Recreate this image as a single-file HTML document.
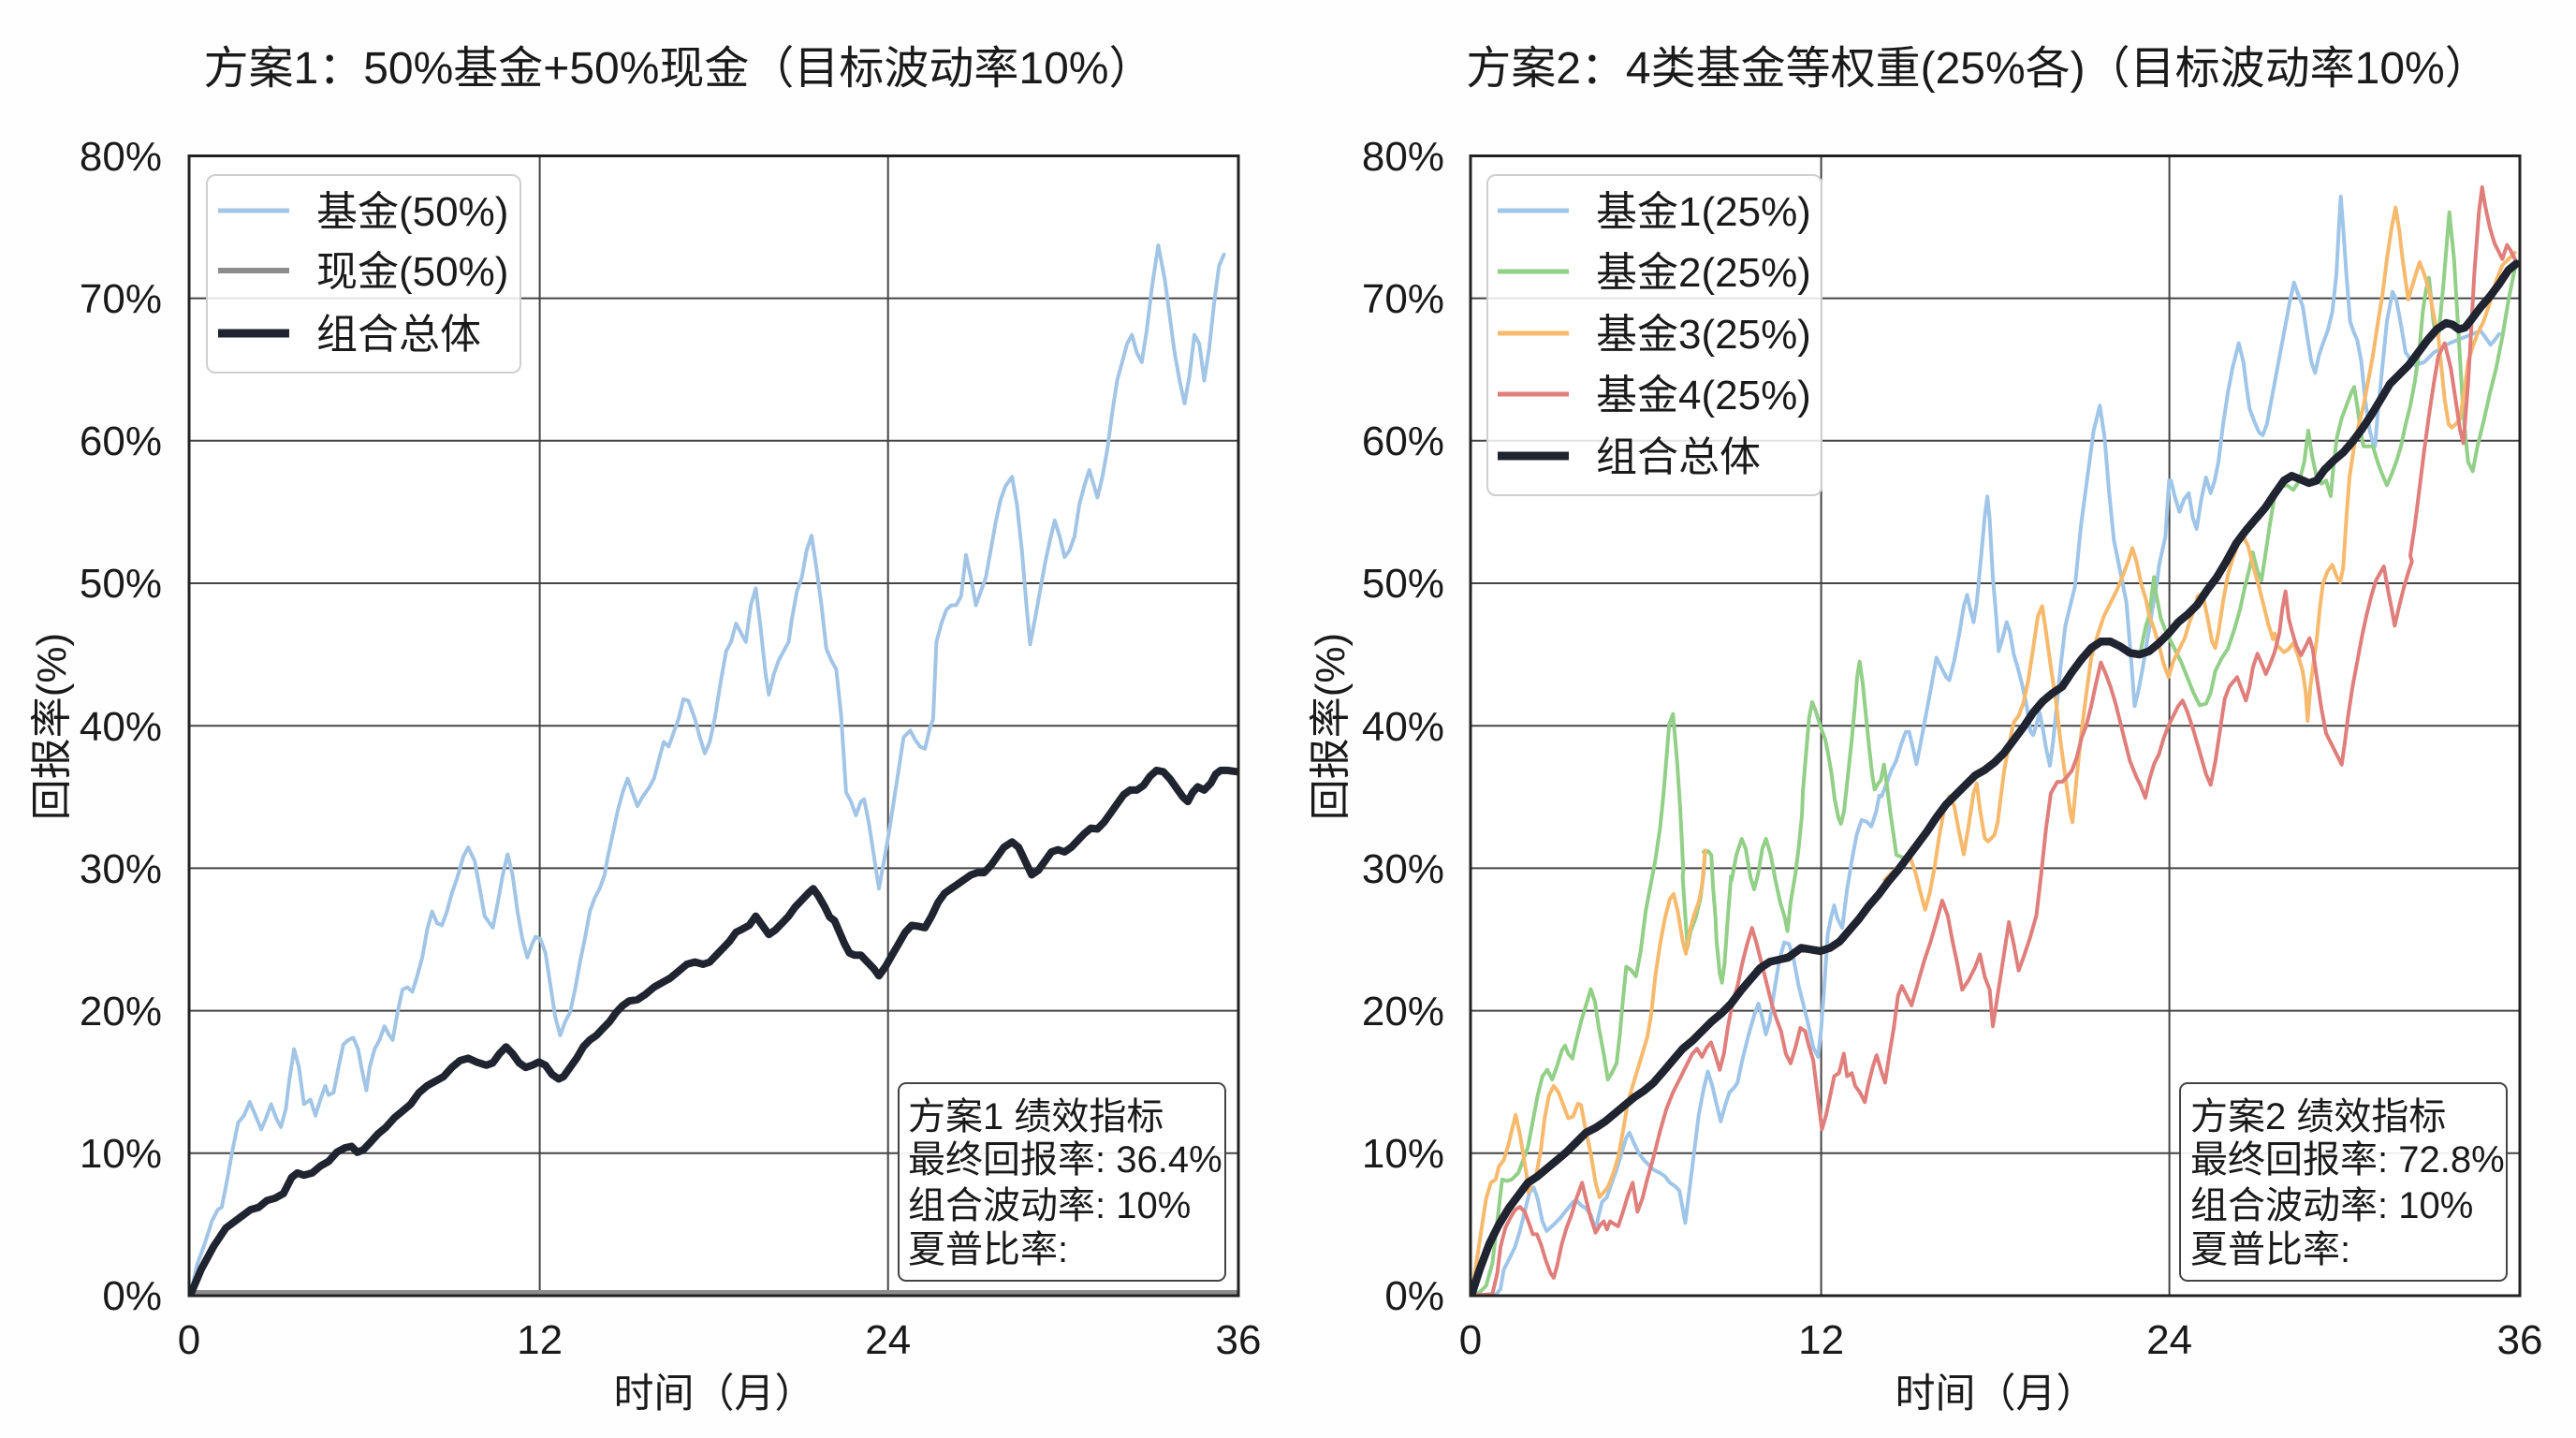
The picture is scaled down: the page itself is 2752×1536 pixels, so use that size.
<!DOCTYPE html>
<html><head><meta charset="utf-8"><style>
html,body{margin:0;padding:0;background:#fff;}
svg{display:block;}
text{font-family:"Liberation Sans","Noto Sans CJK SC",sans-serif;fill:#1a1a1a;}
</style></head><body>
<svg xmlns="http://www.w3.org/2000/svg" width="2752" height="1536" viewBox="0 0 2752 1536">
<defs>
<clipPath id="cl"><rect x="202" y="166.5" width="1121" height="1217.5"/></clipPath>
<clipPath id="cr"><rect x="1571" y="166.5" width="1121" height="1217.5"/></clipPath>
</defs>
<rect width="2752" height="1536" fill="#fefefe"/>

<!-- Titles -->
<text x="725" y="89" font-size="48" text-anchor="middle">方案1：50%基金+50%现金（目标波动率10%）</text>
<text x="2113" y="89" font-size="48" text-anchor="middle">方案2：4类基金等权重(25%各)（目标波动率10%）</text>

<!-- Left axes background & grid -->
<rect x="202" y="166.5" width="1121" height="1217.5" fill="#fff"/>
<g stroke="#444" stroke-width="2">
<line x1="202" x2="1323" y1="1231.8" y2="1231.8"/><line x1="202" x2="1323" y1="1079.6" y2="1079.6"/>
<line x1="202" x2="1323" y1="927.4" y2="927.4"/><line x1="202" x2="1323" y1="775.2" y2="775.2"/>
<line x1="202" x2="1323" y1="623" y2="623"/><line x1="202" x2="1323" y1="470.8" y2="470.8"/>
<line x1="202" x2="1323" y1="318.6" y2="318.6"/>
<line x1="576.6" x2="576.6" y1="166.5" y2="1384"/><line x1="948.7" x2="948.7" y1="166.5" y2="1384"/>
</g>
<!-- Right axes background & grid -->
<rect x="1571" y="166.5" width="1121" height="1217.5" fill="#fff"/>
<g stroke="#444" stroke-width="2">
<line x1="1571" x2="2692" y1="1231.8" y2="1231.8"/><line x1="1571" x2="2692" y1="1079.6" y2="1079.6"/>
<line x1="1571" x2="2692" y1="927.4" y2="927.4"/><line x1="1571" x2="2692" y1="775.2" y2="775.2"/>
<line x1="1571" x2="2692" y1="623" y2="623"/><line x1="1571" x2="2692" y1="470.8" y2="470.8"/>
<line x1="1571" x2="2692" y1="318.6" y2="318.6"/>
<line x1="1945.6" x2="1945.6" y1="166.5" y2="1384"/><line x1="2317.6" x2="2317.6" y1="166.5" y2="1384"/>
</g>

<!-- Series left -->
<g clip-path="url(#cl)" fill="none" stroke-linejoin="round" stroke-linecap="round">
<path id="lb" stroke="#a2c5e6" stroke-width="4"/>
<line x1="202" x2="1323" y1="1381" y2="1381" stroke="#8c8c8c" stroke-width="6"/>
<path id="lk" stroke="#1f2430" stroke-width="8"/>
</g>
<!-- Series right -->
<g clip-path="url(#cr)" fill="none" stroke-linejoin="round" stroke-linecap="round">
<path id="rb" stroke="#9fc5e8" stroke-width="4"/>
<path id="rg" stroke="#92cf87" stroke-width="4"/>
<path id="ro1" stroke="#f7b96c" stroke-width="4"/>
<path id="ro2" stroke="#f7b96c" stroke-width="4"/>
<path id="rr" stroke="#e07e7b" stroke-width="4"/>
<path id="rk" stroke="#1f2430" stroke-width="8.5"/>
</g>

<!-- Spines -->
<rect x="202" y="166.5" width="1121" height="1217.5" fill="none" stroke="#222" stroke-width="3"/>
<rect x="1571" y="166.5" width="1121" height="1217.5" fill="none" stroke="#222" stroke-width="3"/>

<!-- Y tick labels -->
<g font-size="44" text-anchor="end">
<text x="173" y="1399">0%</text><text x="173" y="1247">10%</text><text x="173" y="1095">20%</text>
<text x="173" y="943">30%</text><text x="173" y="791">40%</text><text x="173" y="638">50%</text>
<text x="173" y="486">60%</text><text x="173" y="334">70%</text><text x="173" y="182">80%</text>
<text x="1543" y="1399">0%</text><text x="1543" y="1247">10%</text><text x="1543" y="1095">20%</text>
<text x="1543" y="943">30%</text><text x="1543" y="791">40%</text><text x="1543" y="638">50%</text>
<text x="1543" y="486">60%</text><text x="1543" y="334">70%</text><text x="1543" y="182">80%</text>
</g>
<!-- X tick labels -->
<g font-size="44" text-anchor="middle">
<text x="202" y="1446">0</text><text x="576.6" y="1446">12</text><text x="948.7" y="1446">24</text><text x="1323" y="1446">36</text>
<text x="1571" y="1446">0</text><text x="1945.6" y="1446">12</text><text x="2317.6" y="1446">24</text><text x="2692" y="1446">36</text>
</g>
<!-- Axis labels -->
<text x="763" y="1503" font-size="43" text-anchor="middle">时间（月）</text>
<text x="2132" y="1503" font-size="43" text-anchor="middle">时间（月）</text>
<text transform="translate(70,776) rotate(-90)" font-size="44" text-anchor="middle">回报率(%)</text>
<text transform="translate(1436,776) rotate(-90)" font-size="44" text-anchor="middle">回报率(%)</text>

<!-- Left legend -->
<rect x="221" y="187" width="335" height="211" rx="9" fill="#fff" fill-opacity="0.85" stroke="#cfcfcf" stroke-width="2"/>
<line x1="233" x2="309" y1="225" y2="225" stroke="#a2c5e6" stroke-width="5"/>
<line x1="233" x2="309" y1="289" y2="289" stroke="#8c8c8c" stroke-width="6"/>
<line x1="233" x2="309" y1="356" y2="356" stroke="#1f2430" stroke-width="9"/>
<g font-size="44">
<text x="338" y="241">基金(50%)</text>
<text x="338" y="305">现金(50%)</text>
<text x="338" y="372">组合总体</text>
</g>

<!-- Right legend -->
<rect x="1589" y="187" width="357" height="342" rx="9" fill="#fff" fill-opacity="0.85" stroke="#cfcfcf" stroke-width="2"/>
<line x1="1600" x2="1676" y1="225" y2="225" stroke="#9fc5e8" stroke-width="5"/>
<line x1="1600" x2="1676" y1="290" y2="290" stroke="#92cf87" stroke-width="5"/>
<line x1="1600" x2="1676" y1="356" y2="356" stroke="#f7b96c" stroke-width="5"/>
<line x1="1600" x2="1676" y1="421" y2="421" stroke="#e07e7b" stroke-width="5"/>
<line x1="1600" x2="1676" y1="487" y2="487" stroke="#1f2430" stroke-width="9"/>
<g font-size="44">
<text x="1705" y="241">基金1(25%)</text>
<text x="1705" y="306">基金2(25%)</text>
<text x="1705" y="372">基金3(25%)</text>
<text x="1705" y="437">基金4(25%)</text>
<text x="1705" y="503">组合总体</text>
</g>

<!-- Stats boxes -->
<rect x="960" y="1157" width="349" height="211" rx="8" fill="#fff" fill-opacity="0.92" stroke="#444" stroke-width="2"/>
<g font-size="40">
<text x="970" y="1206">方案1 绩效指标</text>
<text x="970" y="1252">最终回报率: 36.4%</text>
<text x="970" y="1301">组合波动率: 10%</text>
<text x="970" y="1348">夏普比率:</text>
</g>
<rect x="2329" y="1157" width="349" height="211" rx="8" fill="#fff" fill-opacity="0.92" stroke="#444" stroke-width="2"/>
<g font-size="40">
<text x="2340" y="1206">方案2 绩效指标</text>
<text x="2340" y="1252">最终回报率: 72.8%</text>
<text x="2340" y="1301">组合波动率: 10%</text>
<text x="2340" y="1348">夏普比率:</text>
</g>
</svg>
<script>
const T={z1:[0,0,1.1395,2.0417],z2:[0,768,1.1395,2.0417],z3:[1376,0,1.1395,2.0417],z4:[1376,768,1.1395,2.0417],
z5:[1560,850,2.9037,2.9037],z6:[1900,520,2.9037,2.9037],z7:[1780,680,3,3],z8:[2200,160,3,3],z9:[2300,600,3,3]};
function build(segs){let d='';for(const [z,a] of segs){const t=T[z];for(let i=0;i<a.length;i+=2){const x=t[0]+a[i]/t[2],y=t[1]+a[i+1]/t[3];d+=(d?'L':'M')+x.toFixed(1)+' '+y.toFixed(1);}}return d;}
function set(id,segs){document.getElementById(id).setAttribute('d',build(segs));}

set('lk',[['z2',[232,1255,245,1200,260,1150,275,1110,290,1090,305,1070,315,1065,325,1050,335,1045,345,1035,355,1000,362,990,370,995,380,990,390,975,400,965,410,945,420,935,428,932,435,945,442,940,450,925,460,905,470,890,480,870,490,855,500,840,510,815,520,800,530,790,540,780,550,760,560,745,570,740,580,748,592,755,600,750,608,730,616,715,624,730,632,750,640,760,648,755,656,748,664,755,672,775,680,785,686,780,694,760,702,740,710,715,718,700,726,690,734,675,742,660,750,640,758,625,766,615,776,612,786,600,796,585,806,575,816,565,826,550,836,535,846,530,856,535,864,530,872,515,880,500,888,485,896,465,904,458,912,450,920,430,928,450,936,470,944,460,952,445,960,430,968,410,976,395,984,380,990,370,996,385,1004,410,1010,432,1016,440,1022,465,1028,490,1034,510,1040,515,1048,515,1056,530,1064,545,1070,560,1078,540,1086,515,1094,490,1102,465,1110,450,1118,452,1126,455,1134,430,1142,400,1150,380,1158,370,1166,360,1174,350,1182,340,1190,335,1198,335,1206,320,1214,300,1222,280,1232,268,1240,280,1248,310,1256,340,1264,330,1272,310,1280,290,1288,285,1296,290,1304,280,1312,265,1320,250,1328,238,1336,240,1344,225,1352,205,1360,185,1368,165,1376,155,1384,155,1392,145,1400,125,1408,112,1416,115,1424,130,1432,150,1440,170,1446,180,1452,160,1458,148,1466,155,1474,140,1480,120,1486,112,1494,112,1506,115]]]);

set('lb',[['z2',[232,1255,240,1190,250,1140,258,1095,265,1070,270,1065,276,1010,283,940,290,880,297,865,304,835,310,860,318,895,324,870,330,840,336,870,342,890,348,850,352,790,358,720,364,760,370,840,378,830,384,865,390,830,396,800,400,820,406,815,412,760,418,710,424,700,430,695,436,720,440,760,446,810,450,760,456,720,462,700,468,670,474,690,478,700,484,640,490,590,496,585,502,595,508,560,514,520,520,460,526,420,532,445,538,450,544,420,550,380,556,350,564,300,570,280,578,310,584,370,590,430,596,445,600,455,606,400,612,340,618,295,624,340,630,420,636,480,642,520,648,490,652,475,658,480,664,510,670,580,676,650,682,690,688,660,694,640,700,590,706,530,712,480,718,420,724,390,730,370,736,340,740,300,746,250,752,200,758,160,764,130,770,160,776,190,782,170,790,150,796,130,802,90,808,50,814,60,820,30,826,0,832,-43,838,-40,846,0,852,40,858,75,864,50,870,0,878,-88,884,-148,890,-168,896,-208,902,-188,908,-168,914,-248,920,-285,926,-198,932,-98,936,-53,942,-98,948,-128,954,-148,960,-168,964,-218,970,-278,976,-308,982,-368,988,-400,994,-328,1000,-248,1006,-153,1012,-128,1018,-108,1024,-8,1030,160,1036,180,1042,210,1048,180,1052,175,1058,230,1064,300,1070,370,1076,310,1082,250,1088,180,1094,110,1100,40,1108,25,1114,45,1120,60,1126,65,1132,20,1136,0,1140,-168,1146,-208,1152,-238,1158,-248,1164,-248,1170,-268,1176,-358,1182,-308,1188,-248,1194,-278,1200,-308,1206,-368,1212,-428,1218,-478,1224,-508,1232,-528,1238,-468,1244,-368,1250,-238,1254,-163,1260,-218,1266,-278,1272,-338,1278,-388,1284,-433,1290,-398,1296,-353,1302,-368,1308,-398,1314,-468,1320,-508,1326,-543,1332,-508,1336,-483,1342,-528,1348,-588,1354,-668,1360,-738,1366,-778,1372,-818,1378,-838,1384,-798,1390,-778,1396,-848,1402,-938,1410,-1033,1418,-958,1424,-878,1430,-798,1436,-738,1442,-688,1448,-748,1454,-838,1460,-818,1466,-738,1472,-808,1478,-908,1484,-988,1490,-1013]]]);

set('rk',[['z5',[35,1548,60,1470,90,1390,120,1330,150,1280,180,1240,210,1200,240,1180,270,1155,300,1130,330,1105,360,1075,390,1045,420,1030,450,1010,480,985,510,960,540,935,570,915,600,890,630,855,660,820,690,785,720,760,750,730,780,700,810,675,840,645,870,605,900,570,930,535,960,515]],
['z6',[30,1460,70,1430,100,1435,130,1440,160,1430,190,1410,220,1375,250,1340,280,1300,310,1265,340,1225,370,1190,400,1150,430,1110,460,1070,490,1025,520,985,550,955,580,925,610,895,640,878,670,855,700,825,730,785,760,745,790,700,820,665,850,640,880,620,910,575,940,535,970,500,1000,480,1030,480,1060,495,1090,515,1120,520,1150,510,1180,485,1210,455,1240,420,1270,395,1300,365,1330,320,1360,280,1390,230,1420,175,1450,135,1480,100,1510,65,1540,20]],
['z8',[720,1060,745,1045,770,1055,800,1068,825,1060,850,1025,880,995,910,970,940,935,970,895,1000,850,1030,800,1060,750,1090,720,1120,690,1150,650,1180,610,1210,575,1240,555,1260,560,1280,575,1300,570,1320,545,1350,505,1380,470,1410,430,1440,385,1465,365]]]);

set('rb',[['z5',[35,1548,70,1548,110,1548,125,1530,135,1470,150,1440,170,1400,185,1350,200,1290,215,1230,228,1215,240,1250,255,1320,268,1350,290,1330,310,1310,330,1285,350,1260,360,1255,375,1270,390,1280,405,1300,420,1345,430,1300,440,1260,455,1245,470,1200,485,1160,500,1110,515,1060,525,1045,540,1080,555,1110,570,1130,585,1145,600,1160,620,1170,635,1180,650,1200,665,1210,680,1225,690,1280,698,1325,710,1230,725,1110,740,990,755,910,768,855,782,900,796,960,808,1010,822,960,835,920,850,905,860,890,875,820,895,740,912,680,925,645,935,680,948,740,960,700,975,600,990,510,1005,455,1020,460,1035,510,1050,590,1065,650,1080,710,1095,780,1110,810,1120,720,1130,580,1140,430,1150,380,1160,340,1170,380,1185,410,1200,290,1215,200,1230,120,1245,75,1260,80,1275,95,1290,50,1300,0]],
['z6',[320,960,335,920,350,880,365,850,380,800,395,760,405,760,415,800,428,860,440,800,455,720,470,640,490,530,505,560,520,590,530,600,545,540,560,460,575,370,585,335,595,380,605,420,615,360,630,200,640,90,648,30,655,100,665,280,675,400,683,510,695,470,708,420,718,450,730,520,742,560,755,610,770,680,782,760,790,770,800,740,810,700,820,750,830,810,842,865,852,790,862,690,875,560,890,430]],
['z8',[50,1400,70,1200,90,1050,110,900,130,820,145,920,160,1100,175,1250,195,1350,215,1450]],
['z6',[1095,550,1105,680,1115,640,1130,560,1145,470,1160,380,1175,290]],
['z8',[320,1330,340,1240,352,1060,358,1060,370,1110,385,1160,400,1120,415,1100,428,1180,440,1215,455,1120,470,1050,485,1100,498,1060,510,1000,525,880,540,780,555,700,575,620,590,680,600,760,610,830,625,870,640,905,652,915,665,880,680,800,695,720,710,640,725,560,740,480,752,425,768,470,780,500,795,600,808,680,820,715,832,660,845,620,860,580,875,520,888,400,896,250,902,150,910,250,920,400,932,550,942,580,955,610,968,680,980,800,995,900,1005,940,1012,950,1020,850,1035,700,1050,550,1068,455,1080,480,1095,560,1110,650,1140,690,1170,680,1200,650,1250,620,1300,600,1350,580,1365,600,1382,625,1395,610,1410,590]]]);

set('rg',[['z5',[35,1548,60,1540,80,1520,100,1450,115,1320,130,1190,145,1195,160,1190,180,1170,195,1130,210,1090,225,1010,240,930,255,870,270,850,285,880,300,840,315,790,325,775,335,800,348,815,360,760,375,700,390,650,405,600,418,640,430,720,445,800,458,880,470,860,485,830,495,740,505,630,515,530,530,540,545,560,560,480,575,360,590,280,605,200,620,100,630,0]],
['z7',[10,280,22,248,35,400,45,550,55,750]],
['z5',[690,250,700,400,705,470,715,420,730,380,745,320,755,240,760,170]],
['z7',[120,690,135,688,145,700,150,800,158,900]],
['z5',[795,450,805,550,812,580,820,520,830,380,840,250]],
['z7',[210,780,225,700,242,648,255,680,270,770,282,810,295,760,308,680,320,648,335,700,350,780,365,850,380,900]],
['z5',[1015,420,1025,330,1040,240,1050,160,1060,60]],
['z7',[438,500,448,380,458,260,468,210,480,240,495,290,510,330,520,380,530,440,540,520,552,580,560,600,570,560,582,450,595,330,605,220,612,130,620,80,630,150,640,250,650,350,660,440,668,490,680,470,688,460,698,410,708,480,718,560,728,630,738,700]],
['z6',[400,1155,430,1115,460,1075,490,1030,520,990,550,960,580,930,610,900,640,883,670,860,700,830,730,790,760,750,790,705,820,670,850,645,880,625,910,580,940,540,970,505,1000,485,1030,485,1060,500,1090,520,1120,525,1140,430,1150,400,1165,280]],
['z9',[10,100,25,180,40,220,55,250,70,280,90,320,110,370,130,420,150,460,170,455,185,420,200,350,220,310,240,280,260,220,280,150,295,80,310,20]],
['z8',[620,1290,635,1350,648,1380,660,1300,675,1200,690,1110,710,1080,730,1075,750,1090,770,1060,785,1000,798,900,810,980,825,1050,840,1070,855,1060,870,1110,880,1000,890,920,905,860,920,820,935,780,945,760,955,820,965,900,975,950,1005,950,1020,1000,1035,1040,1050,1075,1065,1040,1080,1000,1095,950,1110,880,1125,820,1140,740,1155,630,1165,520,1175,450,1185,410,1200,560,1215,600,1232,420,1250,200,1265,350,1280,600,1295,850,1310,1000,1325,1030,1340,950,1360,870,1380,780,1400,700,1420,600,1440,480,1460,380]]]);

set('ro1',[['z5',[35,1548,50,1450,65,1350,80,1250,95,1200,110,1190,120,1150,135,1130,150,1080,162,1030,172,990,185,1050,195,1110,205,1170,212,1230,220,1200,235,1180,250,1100,262,1000,275,930,290,900,305,920,320,960,335,1000,350,995,365,955,375,960,390,1040,405,1110,420,1200,432,1245,445,1230,460,1210,475,1170,490,1120,505,1040,520,950,535,900,550,850,565,800,580,750,592,680,605,560,620,460,635,380,650,320,662,305,675,360,690,450,700,490,712,420,725,370,740,330,750,280,760,170]]]);

set('ro2',[['z7',[700,780,760,720,780,700,800,760,815,820,830,875,845,820,860,740,875,640,890,560,900,530]],
['z6',[530,960,545,990,560,1070,575,1140,590,1050,605,950,615,920,625,1000,640,1090,650,1100,660,1090,670,1080,680,1040,690,960,700,880,715,800,730,730,745,710,760,670,775,600,790,500,805,400,818,370,830,450,845,560,860,660,875,790,890,900,905,1010,912,1040,925,900,940,760,955,640,970,530,990,460,1010,400,1030,360,1050,320,1070,270,1085,230,1098,190,1110,230,1125,300,1140,350,1150,400,1165,440,1180,490,1195,550,1210,590,1225,540,1240,510,1260,470,1275,420,1290,380,1300,340,1315,330,1330,400,1345,480,1355,500,1365,450,1380,350,1395,270,1410,220,1425,180,1440,150]],
['z8',[605,1270,620,1330,640,1400,655,1460,670,1520,685,1568]],
['z9',[390,230,400,270,420,290,435,280,450,260,465,300,480,350,490,420,496,510,505,400,515,320,525,250,535,150,545,70,560,30,575,10,590,50,600,65,610,20]],
['z8',[920,1180,930,1050,945,950,960,880,975,820,990,740,1005,660,1020,560,1035,470,1050,350,1065,250,1078,185,1090,260,1100,350,1110,420,1118,480,1130,440,1145,390,1155,360,1170,400,1185,450,1200,530,1215,600,1225,700,1235,800,1248,880,1258,890,1270,880,1285,860,1300,760,1310,680,1325,630,1340,590,1360,550,1380,490,1400,420,1420,370,1440,350,1460,330]]]);

set('rr',[['z5',[35,1548,70,1548,100,1545,115,1480,125,1400,140,1340,155,1310,170,1285,185,1275,200,1290,215,1330,225,1360,238,1360,250,1390,265,1440,280,1480,290,1495,300,1460,315,1390,330,1340,345,1300,360,1250,378,1200,390,1250,405,1310,420,1355,435,1330,445,1320,455,1345,465,1320,480,1330,490,1335,505,1290,520,1240,535,1200,550,1290,565,1250,580,1190,600,1120,620,1040,640,970,660,920,675,890,690,860,705,830,720,800,735,785,750,810,765,780,778,765,790,800,805,850,818,800,830,720,845,640,860,590,875,520,890,460,905,410,920,460,935,520,950,580,965,640,980,690,995,730,1010,800,1025,830,1040,780,1055,720,1070,730,1080,770,1095,820,1105,900,1115,980,1122,1035,1135,990,1150,920,1160,870,1175,860,1190,800,1200,870,1215,860,1225,900,1240,920,1255,950,1265,900,1280,840,1292,805,1305,850,1318,890,1330,810,1345,720,1358,620,1370,590,1385,620,1400,650,1420,580,1440,510,1460,450,1480,380,1495,325]],
['z6',[525,1330,540,1410,555,1480,570,1560,590,1530,610,1490,625,1450,640,1520,655,1560]],
['z4',[858,670]],
['z6',[715,1350,730,1420,745,1500,760,1460,780,1400,800,1330,815,1200,830,1060,845,950,865,915,880,915,895,900,910,880,925,840,940,780,955,740,970,680,985,610,1000,545,1015,580,1030,620,1045,670,1060,730,1075,790,1090,850,1110,900,1125,930,1138,965,1150,910,1165,860,1180,830,1195,780,1210,740,1225,710,1240,680]],
['z9',[95,445,110,480,130,540,150,610,170,680,185,715,200,640,215,540,230,440,245,400,270,370,285,410,298,445,310,400,320,340,335,295,350,330,362,360,375,330,390,290,405,230,415,150,425,95,435,180,445,220,460,270,475,300,490,270,502,245,512,280,525,370,540,470,555,550,570,580,585,610,605,650,615,580,625,500,640,400,655,320,670,240,685,170,700,110,715,60,740,15,755,100,765,150,775,205,790,140,805,80,820,30,830,0]],
['z8',[1125,1300,1140,1200,1155,1080,1170,960,1185,850,1200,750,1215,660,1235,620,1255,700,1270,800,1285,900,1295,940,1310,750,1320,580,1330,400,1345,200,1355,120,1365,180,1380,250,1395,300,1410,330,1420,350,1435,305,1445,320,1455,340,1465,360]]]);
</script>
</body></html>
